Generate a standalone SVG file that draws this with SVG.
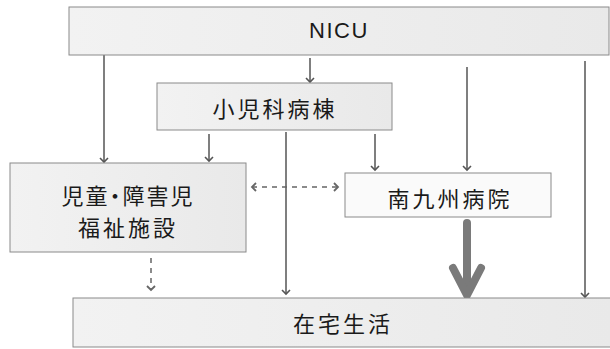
<svg xmlns="http://www.w3.org/2000/svg" width="610" height="349" viewBox="0 0 610 349">
<defs>
<linearGradient id="g" x1="0" y1="0" x2="1" y2="0">
<stop offset="0" stop-color="#f2f2f2"/>
<stop offset="1" stop-color="#e9e9e9"/>
</linearGradient>
<marker id="ah" markerWidth="10" markerHeight="10" refX="5" refY="5" orient="auto" markerUnits="userSpaceOnUse">
<path d="M1,1 L5,5 L1,9" fill="none" stroke="#555" stroke-width="1.6"/>
</marker>
<marker id="ahd" markerWidth="10" markerHeight="10" refX="5" refY="5" orient="auto-start-reverse" markerUnits="userSpaceOnUse">
<path d="M1,1 L5,5 L1,9" fill="none" stroke="#666" stroke-width="1.8"/>
</marker>
</defs>
<style>
.box{fill:url(#g);stroke:#8a8a8a;stroke-width:1}
.t{font-family:"Noto Sans CJK JP","Noto Sans",sans-serif;font-size:22px;fill:#1a1a1a;text-anchor:middle;letter-spacing:3px}
.ln{stroke:#555;stroke-width:1.5;fill:none;marker-end:url(#ah)}
.dash{stroke:#666;stroke-width:1.5;fill:none;stroke-dasharray:5 5}
</style>
<rect width="610" height="349" fill="#ffffff"/>
<g id="connectors">
<line class="ln" x1="104" y1="55" x2="104" y2="162"/>
<line class="ln" x1="310" y1="58" x2="310" y2="82"/>
<line class="ln" x1="209" y1="134" x2="209" y2="161"/>
<line class="ln" x1="286" y1="132" x2="286" y2="294"/>
<line class="ln" x1="375" y1="134" x2="375" y2="170"/>
<line class="ln" x1="467" y1="67" x2="467" y2="170"/>
<line class="ln" x1="585" y1="61" x2="585" y2="297"/>
<line class="dash" x1="252" y1="187" x2="338" y2="187" marker-start="url(#ahd)" marker-end="url(#ahd)"/>
<line class="dash" x1="151" y1="258" x2="151" y2="290" marker-end="url(#ahd)"/>
<g stroke="#7a7a7a" stroke-width="8" fill="none" stroke-linecap="round">
<line x1="467" y1="223" x2="467" y2="292"/>
<path d="M453,268 L467,295 L481,268" stroke-linejoin="miter" stroke-linecap="round"/>
</g>
</g>
<g id="nicu">
<rect class="box" x="69" y="7" width="540" height="48"/>
<text class="t" x="339" y="38" style="font-family:'Liberation Sans','Noto Sans',sans-serif;font-size:22px;letter-spacing:1.5px">NICU</text>
</g>
<g id="shonika">
<rect class="box" x="157" y="83" width="235" height="47"/>
<text class="t" x="275" y="117">小児科病棟</text>
</g>
<g id="jido">
<rect class="box" x="10" y="163" width="236" height="89"/>
<text class="t" x="128" y="204" style="letter-spacing:2px;font-feature-settings:'halt' 1">児童・障害児</text>
<text class="t" x="128" y="236">福祉施設</text>
</g>
<g id="minamikyushu">
<rect class="box" x="345" y="173" width="206" height="44" style="fill:#fafafa"/>
<text class="t" x="450" y="207">南九州病院</text>
</g>
<g id="zaitaku">
<rect class="box" x="73" y="298" width="540" height="49"/>
<text class="t" x="343" y="332">在宅生活</text>
</g>
</svg>
